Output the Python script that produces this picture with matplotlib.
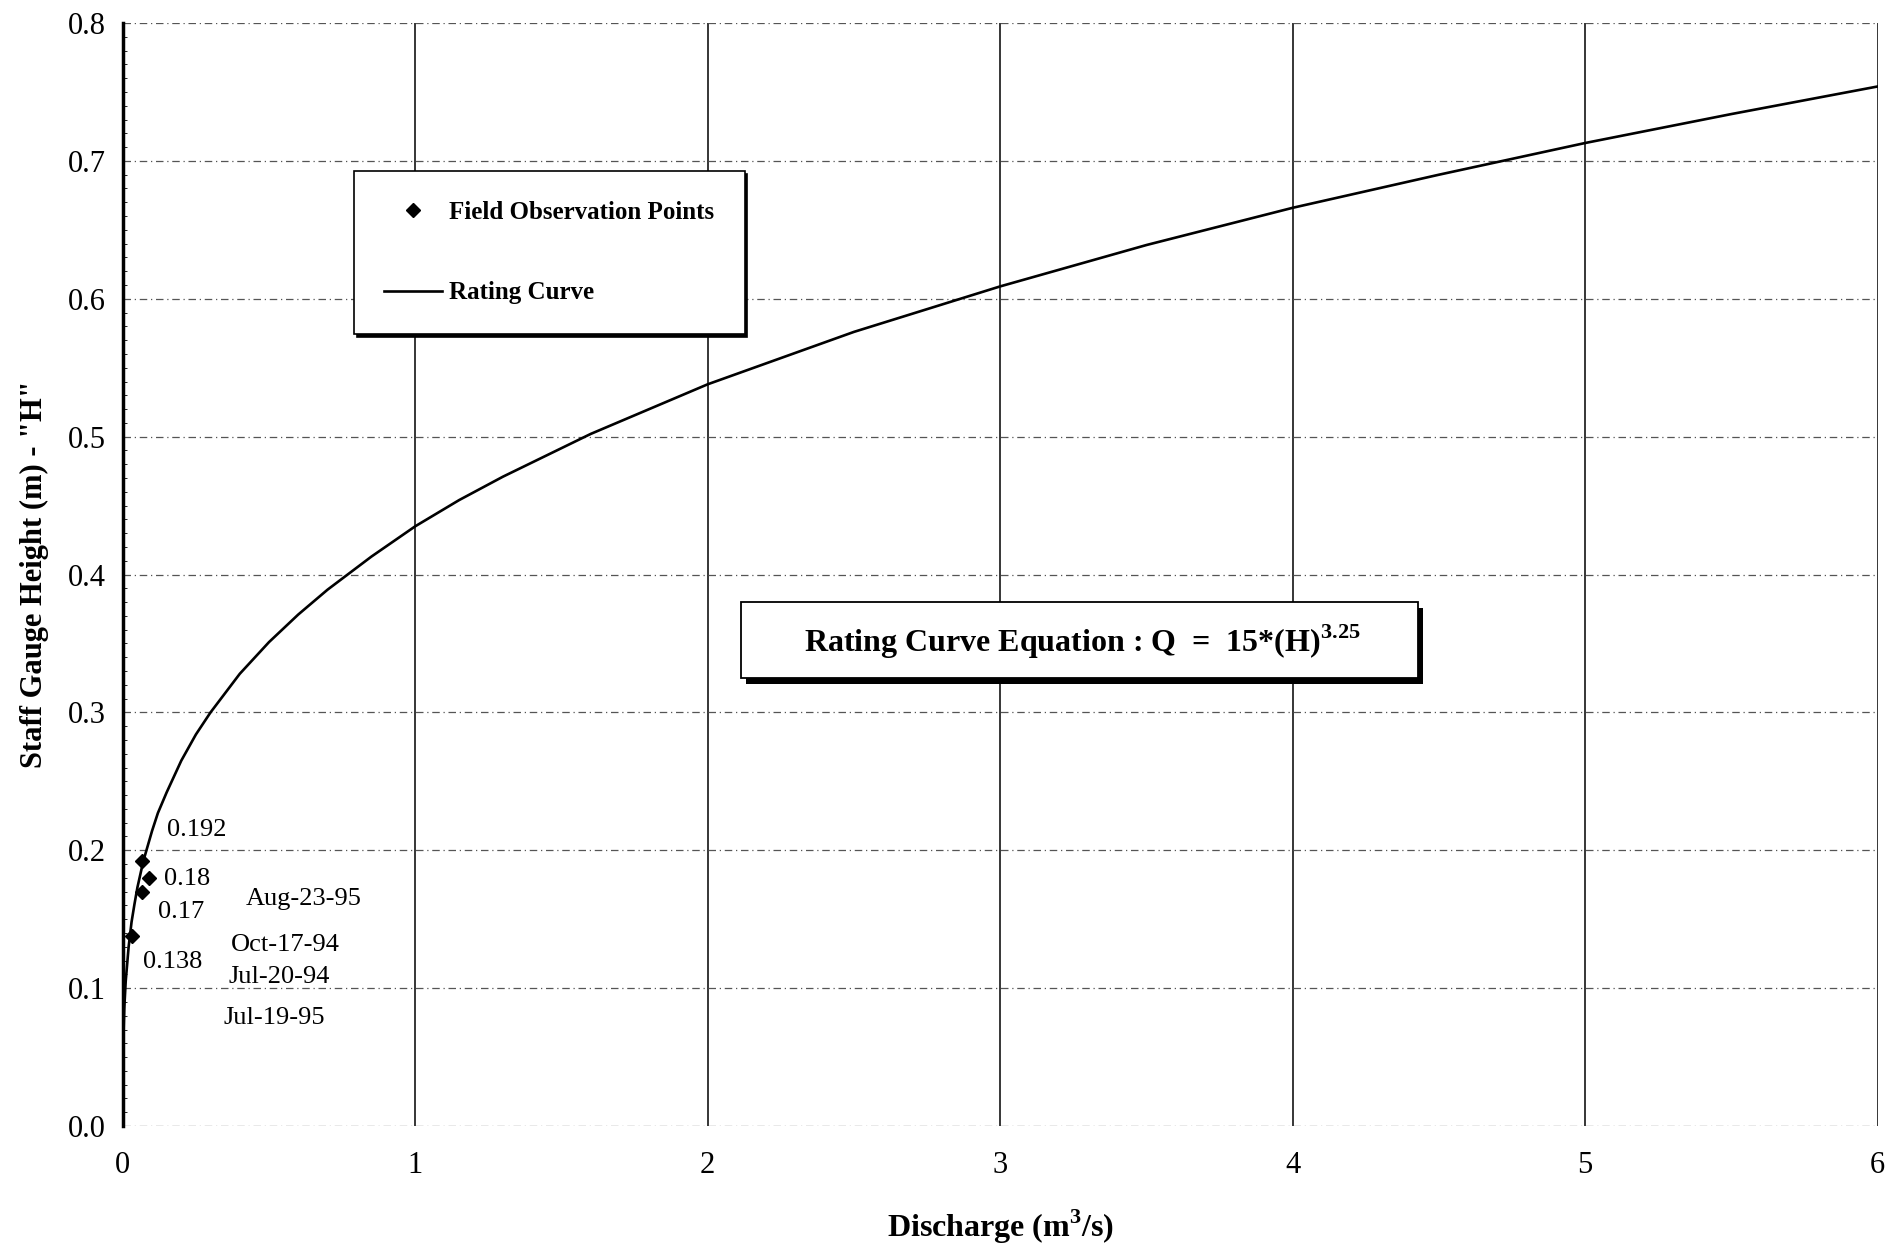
import matplotlib
matplotlib.use("Agg")
import matplotlib.pyplot as plt
import matplotlib.patheffects as pe
from matplotlib.patches import Rectangle
from matplotlib.ticker import MultipleLocator

plt.rcParams['font.family'] = ['Liberation Serif', 'DejaVu Serif']
plt.rcParams['mathtext.fontset'] = 'custom'
plt.rcParams['mathtext.rm'] = 'Liberation Serif:bold'
plt.rcParams['mathtext.bf'] = 'Liberation Serif:bold'

# Rating curve, values
curve_q = [0, 0.0005, 0.002, 0.005, 0.01, 0.02, 0.03, 0.04, 0.05, 0.07, 0.1, 0.12, 0.15, 0.2,
           0.25, 0.3, 0.4, 0.5, 0.6, 0.7, 0.85, 1.0, 1.15, 1.3, 1.6, 2.0, 2.5, 3.0, 3.5, 4.0,
           4.5, 5.0, 5.5, 6.0]
curve_h = [0, 0.042, 0.064, 0.085, 0.105, 0.130, 0.148, 0.161, 0.173, 0.192, 0.214, 0.227, 0.242,
           0.265, 0.284, 0.300, 0.328, 0.351, 0.371, 0.389, 0.413, 0.435, 0.454, 0.471, 0.502,
           0.538, 0.576, 0.609, 0.639, 0.666, 0.690, 0.713, 0.734, 0.754]

# Field observation points
obs_q = [0.03, 0.065, 0.09, 0.067]
obs_h = [0.138, 0.17, 0.18, 0.192]
obs_labels = ["0.138", "0.17", "0.18", "0.192"]
obs_label_xy = [(0.07, 0.119), (0.12, 0.155), (0.14, 0.179), (0.15, 0.215)]

dates = ["Aug-23-95", "Oct-17-94", "Jul-20-94", "Jul-19-95"]
date_xy = [(0.42, 0.165), (0.37, 0.131), (0.36, 0.108), (0.345, 0.078)]

fig = plt.figure(figsize=(18.89, 12.46), dpi=100)
ax = fig.add_axes([0.065, 0.0963, 0.929, 0.8852])

ax.set_xlim(0, 6)
ax.set_ylim(0, 0.8)

# grid
for x in range(1, 7):
    ax.axvline(x, color='black', lw=1.1, zorder=1)
for y in [0.0, 0.1, 0.2, 0.3, 0.4, 0.5, 0.6, 0.7, 0.8]:
    ax.axhline(y, color='#555555', lw=0.9, ls=(0, (6, 3, 1, 3)), zorder=1)

ax.plot(curve_q, curve_h, color='black', lw=1.9, zorder=3, label='Rating Curve')
ax.plot(obs_q, obs_h, ls='none', marker='D', ms=7, color='black', zorder=4,
        label='Field Observation Points')

for lab, (x, y) in zip(obs_labels, obs_label_xy):
    ax.text(x, y, lab, fontsize=19, ha='left', va='center')
for lab, (x, y) in zip(dates, date_xy):
    ax.text(x, y, lab, fontsize=19, ha='left', va='center')

for s in ['top', 'right', 'bottom']:
    ax.spines[s].set_visible(False)
ax.spines['left'].set_linewidth(2.5)

ax.set_xticks(range(0, 7))
ax.set_yticks([0.0, 0.1, 0.2, 0.3, 0.4, 0.5, 0.6, 0.7, 0.8])
ax.set_yticklabels(["0.0", "0.1", "0.2", "0.3", "0.4", "0.5", "0.6", "0.7", "0.8"])
ax.yaxis.set_minor_locator(MultipleLocator(0.01))
ax.tick_params(axis='x', length=0, pad=18, labelsize=22)
ax.tick_params(axis='y', which='major', length=0, pad=12, labelsize=22)
ax.tick_params(axis='y', which='minor', direction='in', length=3, width=0.6)

ax.set_xlabel(r"Discharge (m$^{\mathbf{3}}$/s)", fontsize=23, fontweight='bold', labelpad=20)
ax.set_ylabel('Staff Gauge Height (m) - "H"', fontsize=22, fontweight='bold', labelpad=14)

handles, labels = ax.get_legend_handles_labels()
leg = ax.legend(handles[::-1], labels[::-1], loc='upper left', bbox_to_anchor=(0.132, 0.866),
                fontsize=18, frameon=True, fancybox=False,
                shadow={'color': 'black', 'alpha': 1}, edgecolor='black',
                framealpha=1, borderpad=1.2, labelspacing=2.3, handlelength=2.3,
                handletextpad=0.3, borderaxespad=0)
for t in leg.get_texts():
    t.set_fontweight('bold')
leg.get_frame().set_linewidth(1.2)
leg.set_zorder(5)

# equation box with drop shadow
box = Rectangle((0.352, 0.406), 0.386, 0.069, transform=ax.transAxes, facecolor='white',
                edgecolor='black', lw=1.3, zorder=6)
box.set_path_effects([pe.SimplePatchShadow(offset=(4, -4), shadow_rgbFace='black', alpha=1),
                      pe.Normal()])
ax.add_patch(box)
ax.text(0.547, 0.439, r"Rating Curve Equation : Q  =  15*(H)$^{3.25}$",
        transform=ax.transAxes, fontsize=23, fontweight='bold', ha='center', va='center',
        zorder=7)

fig.savefig("out.png", dpi=100)
